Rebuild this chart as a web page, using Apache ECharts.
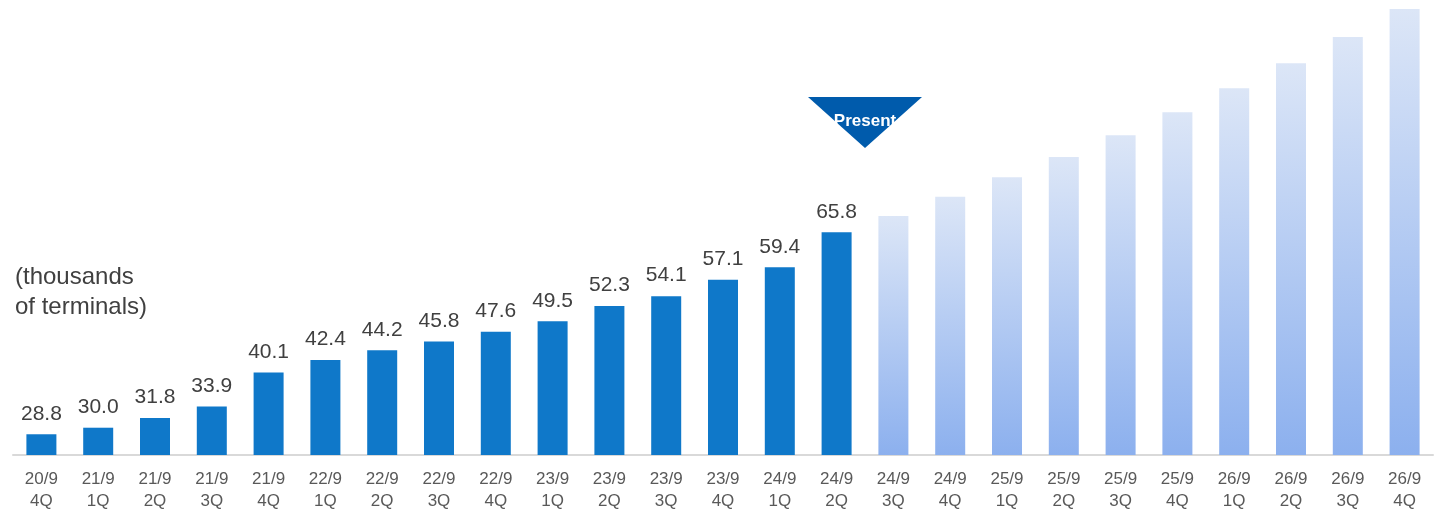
<!DOCTYPE html>
<html>
<head>
<meta charset="utf-8">
<script src="https://cdn.jsdelivr.net/npm/echarts@6/dist/echarts.min.js"></script>
<style>
  html, body { margin: 0; padding: 0; background: #ffffff; }
  #chart { width: 1434px; height: 513px; }
</style>
</head>
<body>
<div id="chart"></div>
<script>
// Quarter labels (fiscal year / quarter)
const categories = [
  '20/9\n4Q', '21/9\n1Q', '21/9\n2Q', '21/9\n3Q', '21/9\n4Q',
  '22/9\n1Q', '22/9\n2Q', '22/9\n3Q', '22/9\n4Q',
  '23/9\n1Q', '23/9\n2Q', '23/9\n3Q', '23/9\n4Q',
  '24/9\n1Q', '24/9\n2Q', '24/9\n3Q', '24/9\n4Q',
  '25/9\n1Q', '25/9\n2Q', '25/9\n3Q', '25/9\n4Q',
  '26/9\n1Q', '26/9\n2Q', '26/9\n3Q', '26/9\n4Q'
];

// Installed terminals, thousands (results up to the present quarter)
const actualValues = [28.8, 30.0, 31.8, 33.9, 40.1, 42.4, 44.2, 45.8, 47.6, 49.5, 52.3, 54.1, 57.1, 59.4, 65.8];

// Planned growth for the following quarters
const planValues = [68.8, 72.3, 75.9, 79.6, 83.6, 87.8, 92.2, 96.8, 101.6, 106.7];

const unitLabel = '(thousands\nof terminals)';
const presentLabel = 'Present';

const actualSeries = categories.map((_, i) => i < actualValues.length ? actualValues[i] : null);
const planSeries = categories.map((_, i) => {
  const k = i - actualValues.length;
  return k >= 0 ? planValues[k] : null;
});

const chart = echarts.init(document.getElementById('chart'), null, { renderer: 'canvas' });

const option = {
  backgroundColor: '#ffffff',
  animation: false,
  grid: { left: 13, right: 1, top: 2, bottom: 58, containLabel: false },
  title: {
    text: unitLabel,
    left: 15,
    top: 262,
    padding: 0,
    textStyle: {
      fontFamily: 'Liberation Sans, Arial, sans-serif',
      fontSize: 24,
      fontWeight: 'normal',
      color: '#404040',
      lineHeight: 30
    }
  },
  xAxis: {
    type: 'category',
    data: categories,
    axisLine: { show: true, lineStyle: { color: '#d9d9d9', width: 2 } },
    axisTick: { show: false },
    axisLabel: {
      color: '#595959',
      fontFamily: 'Liberation Sans, Arial, sans-serif',
      fontSize: 17,
      lineHeight: 22,
      margin: 13,
      interval: 0
    }
  },
  yAxis: {
    type: 'value',
    min: 25,
    max: 108,
    show: false,
    splitLine: { show: false }
  },
  series: [
    {
      name: 'actual',
      type: 'bar',
      data: actualSeries,
      barWidth: 30,
      barGap: '-100%',
      itemStyle: { color: '#0f78c9' },
      label: {
        show: true,
        position: 'top',
        distance: 10,
        color: '#404040',
        fontFamily: 'Liberation Sans, Arial, sans-serif',
        fontSize: 21,
        formatter: p => p.value.toFixed(1)
      }
    },
    {
      name: 'plan',
      type: 'bar',
      data: planSeries,
      barWidth: 30,
      barGap: '-100%',
      itemStyle: {
        color: new echarts.graphic.LinearGradient(0, 0, 0, 1, [
          { offset: 0, color: '#dce6f7' },
          { offset: 1, color: '#8cb0ee' }
        ])
      }
    }
  ]
};

chart.setOption(option);

// "Present" marker: downward triangle between the last result and the first planned quarter
const xa = chart.convertToPixel({ xAxisIndex: 0 }, actualValues.length - 1);
const xb = chart.convertToPixel({ xAxisIndex: 0 }, actualValues.length);
const cx = (xa + xb) / 2;
const triTop = 97, triBottom = 148, halfW = 57;

chart.setOption({
  graphic: [
    {
      type: 'polygon',
      shape: { points: [[cx - halfW, triTop], [cx + halfW, triTop], [cx, triBottom]] },
      style: { fill: '#005bac' },
      z: 100
    },
    {
      type: 'text',
      x: cx,
      y: 121,
      style: {
        text: presentLabel,
        fill: '#ffffff',
        font: 'bold 17px "Liberation Sans", Arial, sans-serif',
        align: 'center',
        verticalAlign: 'middle'
      },
      z: 101
    }
  ]
});
</script>
</body>
</html>
